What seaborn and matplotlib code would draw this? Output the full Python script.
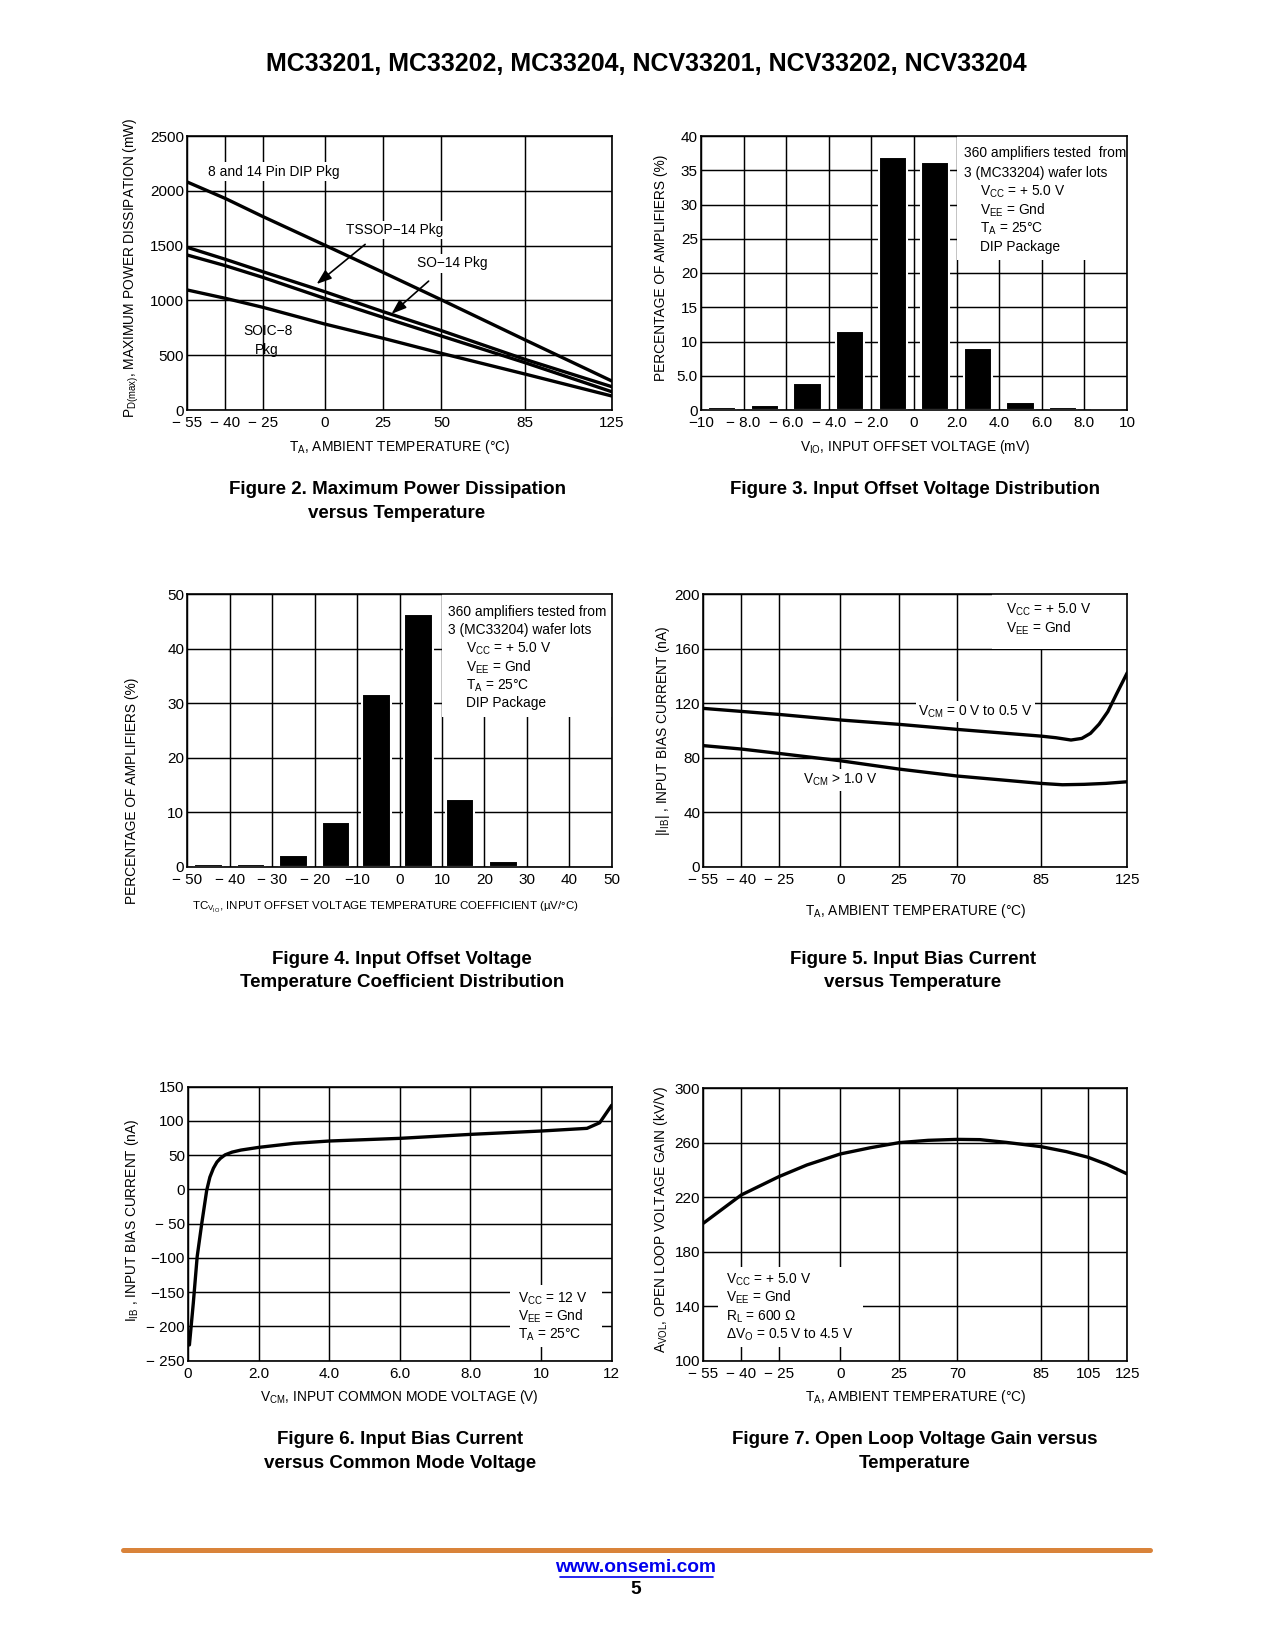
import numpy as np
import pandas as pd
import matplotlib
matplotlib.use("Agg")
import matplotlib.pyplot as plt
import seaborn as sns
from matplotlib import font_manager
from matplotlib.patches import Rectangle
from matplotlib.lines import Line2D

# ---------------- DATA ----------------
# Figure 2: max power dissipation vs temperature
fig2_temp = [-55, -40, -25, 0, 25, 50, 85, 125]
fig2_dip = [2080, 1930, 1765, 1505, 1255, 1005, 640, 265]
fig2_tssop = [1484, 1375, 1262, 1080, 897, 724, 462, 213]
fig2_so14 = [1414, 1317, 1210, 1019, 845, 675, 432, 167]
fig2_soic8 = [1095, 1019, 937, 785, 654, 517, 328, 128]
fig2_xticks = [-55, -40, -25, 0, 25, 50, 85, 125]
fig2_xlabels = ["\u2212 55", "\u2212 40", "\u2212 25", "0", "25", "50", "85", "125"]
fig2_yticks = [0, 500, 1000, 1500, 2000, 2500]

# Figure 3: input offset voltage distribution
fig3_vio = [-9, -7, -5, -3, -1, 1, 3, 5, 7, 9]
fig3_pct = [0.4, 0.8, 3.9, 11.6, 37.0, 36.2, 9.0, 1.1, 0.4, 0.25]
fig3_xticks = [-10, -8, -6, -4, -2, 0, 2, 4, 6, 8, 10]
fig3_xlabels = ["\u221210", "\u2212 8.0", "\u2212 6.0", "\u2212 4.0", "\u2212 2.0", "0",
                "2.0", "4.0", "6.0", "8.0", "10"]
fig3_yticks = [0, 5, 10, 15, 20, 25, 30, 35, 40]
fig3_ylabels = ["0", "5.0", "10", "15", "20", "25", "30", "35", "40"]

# Figure 4: TC of input offset voltage distribution
fig4_tc = [-45, -35, -25, -15, -5.4, 4.5, 14.3, 24.5]
fig4_pct = [0.5, 0.5, 2.1, 8.2, 31.7, 46.3, 12.5, 1.1]
fig4_xticks = [-50, -40, -30, -20, -10, 0, 10, 20, 30, 40, 50]
fig4_xlabels = ["\u2212 50", "\u2212 40", "\u2212 30", "\u2212 20", "\u221210", "0",
                "10", "20", "30", "40", "50"]
fig4_yticks = [0, 10, 20, 30, 40, 50]

# Figure 5: input bias current vs temperature
fig5_temp_low = [-55, -40, -25, 0, 25, 70, 85, 92, 99, 104, 108, 112, 116, 120, 125]
fig5_ib_low = [116.1, 113.9, 111.7, 107.6, 104.4, 100.7, 95.8, 94.6, 92.9, 94.1,
               97.8, 104.6, 113.7, 126.6, 142.3]
fig5_temp_high = [-55, -40, -25, 0, 25, 70, 85, 95, 105, 115, 125]
fig5_ib_high = [88.8, 86.3, 83.1, 77.7, 71.6, 66.5, 61.1, 60.1, 60.4, 61.1, 62.3]
fig5_xticks = [-55, -40, -25, 0, 25, 70, 85, 125]
fig5_xlabels = ["\u2212 55", "\u2212 40", "\u2212 25", "0", "25", "70", "85", "125"]
fig5_yticks = [0, 40, 80, 120, 160, 200]

# Figure 6: input bias current vs common mode voltage
fig6_vcm = [0.0, 0.04, 0.15, 0.26, 0.39, 0.53, 0.62, 0.72, 0.82, 0.92, 1.05, 1.25,
            1.5, 2.0, 3.0, 4.0, 6.0, 8.0, 10.0, 11.3, 11.66, 12.0]
fig6_ib = [-215, -227, -166, -98, -49.5, -1.2, 18, 31, 40, 45.5, 50.5, 54.5,
           57.5, 61.4, 67.3, 70.7, 74.6, 80.4, 85.3, 89.2, 97.4, 123]
fig6_xticks = [0, 2, 4, 6, 8, 10, 12]
fig6_xlabels = ["0", "2.0", "4.0", "6.0", "8.0", "10", "12"]
fig6_yticks = [-250, -200, -150, -100, -50, 0, 50, 100, 150]
fig6_ylabels = ["\u2212 250", "\u2212 200", "\u2212150", "\u2212100", "\u2212 50", "0",
                "50", "100", "150"]

# Figure 7: open loop voltage gain vs temperature
fig7_temp = [-55, -40, -25, -13.6, 0, 12.6, 25, 47.5, 70, 74.1, 78.8, 85, 95.8, 105,
             114.4, 125]
fig7_avol = [200.9, 221.7, 235.1, 243.7, 251.8, 256.3, 260.1, 261.8, 262.5, 262.3,
             260.3, 257.2, 253.5, 249.3, 244.2, 237.1]
fig7_xticks = [-55, -40, -25, 0, 25, 70, 85, 105, 125]
fig7_xlabels = ["\u2212 55", "\u2212 40", "\u2212 25", "0", "25", "70", "85", "105", "125"]
fig7_yticks = [100, 140, 180, 220, 260, 300]

# relative placement of the (non-uniform) temperature grid lines
temp_grid_pos = [0.0, 0.0896, 0.178, 0.3233, 0.4617, 0.5988, 0.7957, 1.0]
temp_grid_pos7 = [0.0, 0.0896, 0.178, 0.3233, 0.4617, 0.5988, 0.7957, 0.908, 1.0]

# ---------------- STYLE ----------------
sns.set_theme(style="white")
names = {f.name for f in font_manager.fontManager.ttflist}
main_font = "Liberation Sans" if "Liberation Sans" in names else "DejaVu Sans"
plt.rcParams["font.family"] = [main_font, "DejaVu Sans"]
plt.rcParams["mathtext.fontset"] = "custom"
plt.rcParams["mathtext.rm"] = main_font
plt.rcParams["mathtext.it"] = main_font
plt.rcParams["mathtext.bf"] = main_font + ":bold"
plt.rcParams["mathtext.default"] = "rm"
plt.rcParams["axes.unicode_minus"] = True

W, H = 1275, 1650
TICK_FS = 7.3
LAB_FS = 6.6
ANN_FS = 6.6
CAP_FS = 9.0
LW_CURVE = 1.6

fig = plt.figure(figsize=(W / 150, H / 150), dpi=150)
fig.patch.set_facecolor("white")


def add_axes(x0, y0, x1, y1):
    return fig.add_axes([x0 / W, 1 - y1 / H, (x1 - x0) / W, (y1 - y0) / H])


def style(ax):
    ax.set_facecolor("white")
    for s in ax.spines.values():
        s.set_visible(True)
        s.set_color("black")
        s.set_linewidth(0.8)
    ax.grid(True, color="black", linewidth=0.7)
    ax.set_axisbelow(True)
    ax.tick_params(length=0, labelsize=TICK_FS, colors="black")
    ax.tick_params(axis="x", pad=3)
    ax.tick_params(axis="y", pad=1.5)


def temp_scale(ax, ticks, pos):
    t = np.asarray(ticks, float)
    p = np.asarray(pos, float)
    s0 = (p[1] - p[0]) / (t[1] - t[0])
    s1 = (p[-1] - p[-2]) / (t[-1] - t[-2])
    te = np.concatenate([[t[0] - 1e4], t, [t[-1] + 1e4]])
    pe = np.concatenate([[p[0] - 1e4 * s0], p, [p[-1] + 1e4 * s1]])
    ax.set_xscale("function",
                  functions=(lambda x: np.interp(x, te, pe), lambda y: np.interp(y, pe, te)))


def labels(ax, xlabel, ylabel, xl, yl, xfs=LAB_FS):
    ax.set_xlabel(xlabel, fontsize=xfs, color="black")
    ax.set_ylabel(ylabel, fontsize=LAB_FS, color="black")
    ax.xaxis.set_label_coords(*xl)
    ax.yaxis.set_label_coords(*yl)
    ax.xaxis.label.set_va("center")
    ax.yaxis.label.set_va("center")


def atext(ax, x, y, s, ha="left", bbox=False, fs=ANN_FS):
    kw = dict(transform=ax.transAxes, ha=ha, va="center", fontsize=fs, color="black", zorder=5)
    if bbox:
        kw["bbox"] = dict(facecolor="white", edgecolor="none", pad=1.2)
    ax.text(x, y, s, **kw)


def white_box(ax, x0, y0, x1, y1):
    ax.add_patch(Rectangle((x0, y0), x1 - x0, y1 - y0, transform=ax.transAxes,
                           facecolor="white", edgecolor="none", zorder=1.5))


def caption(xc, ys, lines):
    for y, s in zip(ys, lines):
        fig.text(xc / W, 1 - y / H, s, ha="center", va="center", fontsize=CAP_FS,
                 fontweight="bold", color="black")


# ---------------- FIGURE 2 ----------------
ax2 = add_axes(187.3, 136, 611.7, 410)
style(ax2)
for ser in (fig2_dip, fig2_tssop, fig2_so14, fig2_soic8):
    sns.lineplot(x=fig2_temp, y=ser, color="black", linewidth=LW_CURVE, ax=ax2,
                 legend=False, zorder=3)
temp_scale(ax2, fig2_xticks, temp_grid_pos)
ax2.set_xlim(-55, 125)
ax2.set_ylim(0, 2500)
ax2.set_xticks(fig2_xticks)
ax2.set_xticklabels(fig2_xlabels)
ax2.set_yticks(fig2_yticks)
ax2.set_yticklabels([str(v) for v in fig2_yticks])
labels(ax2, "T$_A$, AMBIENT TEMPERATURE (\u00b0C)",
       "P$_{D(max)}$, MAXIMUM POWER DISSIPATION (mW)", (0.5, -0.135), (-0.131, 0.52))
atext(ax2, 0.049, 0.87, "8 and 14 Pin DIP Pkg", bbox=True)
atext(ax2, 0.4875, 0.657, "TSSOP\u221214 Pkg", ha="center", bbox=True)
atext(ax2, 0.625, 0.535, "SO\u221214 Pkg", ha="center", bbox=True)
atext(ax2, 0.19, 0.29, "SOIC\u22128", ha="center")
atext(ax2, 0.186, 0.219, "Pkg", ha="center")
arrow_kw = dict(arrowstyle="-|>,head_length=0.5,head_width=0.18", color="black", lw=0.8)
ax2.annotate("", xy=(0.297, 0.450), xytext=(0.4266, 0.614), xycoords="axes fraction",
             textcoords="axes fraction", arrowprops=arrow_kw, zorder=5)
ax2.annotate("", xy=(0.4737, 0.3406), xytext=(0.576, 0.4805), xycoords="axes fraction",
             textcoords="axes fraction", arrowprops=arrow_kw, zorder=5)

# ---------------- FIGURE 3 ----------------
ax3 = add_axes(701, 136, 1127, 410)
style(ax3)
sns.barplot(x=fig3_vio, y=fig3_pct, native_scale=True, orient="x", width=0.665,
            color="black", saturation=1, errorbar=None, ax=ax3, zorder=2)
ax3.set_xlim(-10, 10)
ax3.set_ylim(0, 40)
ax3.set_xticks(fig3_xticks)
ax3.set_xticklabels(fig3_xlabels)
ax3.set_yticks(fig3_yticks)
ax3.set_yticklabels(fig3_ylabels)
labels(ax3, "V$_{IO}$, INPUT OFFSET VOLTAGE (mV)", "PERCENTAGE OF AMPLIFIERS (%)",
       (0.502, -0.135), (-0.095, 0.52))
white_box(ax3, 0.60, 0.547, 1.0, 1.0)
for (x, y, s) in [(0.617, 0.937, "360 amplifiers tested  from"),
                  (0.617, 0.864, "3 (MC33204) wafer lots"),
                  (0.656, 0.797, "V$_{CC}$ = + 5.0 V"),
                  (0.656, 0.730, "V$_{EE}$ = Gnd"),
                  (0.656, 0.663, "T$_A$ = 25\u00b0C"),
                  (0.656, 0.596, "DIP Package")]:
    atext(ax3, x, y, s)

# ---------------- FIGURE 4 ----------------
ax4 = add_axes(187.3, 594, 611.7, 866.7)
style(ax4)
sns.barplot(x=fig4_tc, y=fig4_pct, native_scale=True, orient="x", width=0.696,
            color="black", saturation=1, errorbar=None, ax=ax4, zorder=2)
ax4.set_xlim(-50, 50)
ax4.set_ylim(0, 50)
ax4.set_xticks(fig4_xticks)
ax4.set_xticklabels(fig4_xlabels)
ax4.set_yticks(fig4_yticks)
ax4.set_yticklabels([str(v) for v in fig4_yticks])
labels(ax4, "TC$_{V_{IO}}$, INPUT OFFSET VOLTAGE TEMPERATURE COEFFICIENT (\u00b5V/\u00b0C)",
       "PERCENTAGE OF AMPLIFIERS (%)", (0.468, -0.148), (-0.131, 0.28), xfs=5.5)
white_box(ax4, 0.60, 0.55, 1.0, 1.0)
for (x, y, s) in [(0.615, 0.935, "360 amplifiers tested from"),
                  (0.615, 0.868, "3 (MC33204) wafer lots"),
                  (0.656, 0.798, "V$_{CC}$ = + 5.0 V"),
                  (0.656, 0.733, "V$_{EE}$ = Gnd"),
                  (0.656, 0.664, "T$_A$ = 25\u00b0C"),
                  (0.656, 0.599, "DIP Package")]:
    atext(ax4, x, y, s)

# ---------------- FIGURE 5 ----------------
ax5 = add_axes(703.3, 594, 1127.3, 866.7)
style(ax5)
sns.lineplot(x=fig5_temp_low, y=fig5_ib_low, color="black", linewidth=LW_CURVE, ax=ax5,
             legend=False, zorder=3)
sns.lineplot(x=fig5_temp_high, y=fig5_ib_high, color="black", linewidth=LW_CURVE, ax=ax5,
             legend=False, zorder=3)
temp_scale(ax5, fig5_xticks, temp_grid_pos)
ax5.set_xlim(-55, 125)
ax5.set_ylim(0, 200)
ax5.set_xticks(fig5_xticks)
ax5.set_xticklabels(fig5_xlabels)
ax5.set_yticks(fig5_yticks)
ax5.set_yticklabels([str(v) for v in fig5_yticks])
labels(ax5, "T$_A$, AMBIENT TEMPERATURE (\u00b0C)", "|I$_{IB}$| , INPUT BIAS CURRENT (nA)",
       (0.5, -0.163), (-0.096, 0.498))
white_box(ax5, 0.68, 0.8, 1.0, 1.0)
atext(ax5, 0.715, 0.941, "V$_{CC}$ = + 5.0 V")
atext(ax5, 0.715, 0.874, "V$_{EE}$ = Gnd")
atext(ax5, 0.507, 0.568, "V$_{CM}$ = 0 V to 0.5 V", bbox=True)
atext(ax5, 0.236, 0.318, "V$_{CM}$ > 1.0 V", bbox=True)

# ---------------- FIGURE 6 ----------------
ax6 = add_axes(188, 1086.7, 611.7, 1360.7)
style(ax6)
sns.lineplot(x=fig6_vcm, y=fig6_ib, color="black", linewidth=LW_CURVE, ax=ax6,
             legend=False, zorder=3, sort=False)
ax6.set_xlim(0, 12)
ax6.set_ylim(-250, 150)
ax6.set_xticks(fig6_xticks)
ax6.set_xticklabels(fig6_xlabels)
ax6.set_yticks(fig6_yticks)
ax6.set_yticklabels(fig6_ylabels)
labels(ax6, "V$_{CM}$, INPUT COMMON MODE VOLTAGE (V)", "I$_{IB}$ , INPUT BIAS CURRENT (nA)",
       (0.5, -0.1325), (-0.133, 0.513))
white_box(ax6, 0.76, 0.051, 0.977, 0.276)
atext(ax6, 0.78, 0.2275, "V$_{CC}$ = 12 V")
atext(ax6, 0.78, 0.163, "V$_{EE}$ = Gnd")
atext(ax6, 0.78, 0.094, "T$_A$ = 25\u00b0C")

# ---------------- FIGURE 7 ----------------
ax7 = add_axes(703.3, 1088.3, 1127.3, 1360.7)
style(ax7)
sns.lineplot(x=fig7_temp, y=fig7_avol, color="black", linewidth=LW_CURVE, ax=ax7,
             legend=False, zorder=3)
temp_scale(ax7, fig7_xticks, temp_grid_pos7)
ax7.set_xlim(-55, 125)
ax7.set_ylim(100, 300)
ax7.set_xticks(fig7_xticks)
ax7.set_xticklabels(fig7_xlabels)
ax7.set_yticks(fig7_yticks)
ax7.set_yticklabels([str(v) for v in fig7_yticks])
labels(ax7, "T$_A$, AMBIENT TEMPERATURE (\u00b0C)",
       "A$_{VOL}$, OPEN LOOP VOLTAGE GAIN (kV/V)", (0.5, -0.1335), (-0.1, 0.518))
white_box(ax7, 0.035, 0.051, 0.377, 0.345)
atext(ax7, 0.0535, 0.296, "V$_{CC}$ = + 5.0 V")
atext(ax7, 0.0535, 0.231, "V$_{EE}$ = Gnd")
atext(ax7, 0.0535, 0.162, "R$_L$ = 600 \u03a9")
atext(ax7, 0.0535, 0.094, "\u0394V$_O$ = 0.5 V to 4.5 V")

# ---------------- PAGE TEXT ----------------
fig.text(646 / W, 1 - 64 / H, "MC33201, MC33202, MC33204, NCV33201, NCV33202, NCV33204",
         ha="center", va="center", fontsize=12.0, fontweight="bold", color="black")
caption(397, [490, 513], ["Figure 2. Maximum Power Dissipation", "versus Temperature"])
caption(915, [490], ["Figure 3. Input Offset Voltage Distribution"])
caption(402, [960, 983], ["Figure 4. Input Offset Voltage",
                          "Temperature Coefficient Distribution"])
caption(913, [960, 983], ["Figure 5. Input Bias Current", "versus Temperature"])
caption(400, [1440, 1463], ["Figure 6. Input Bias Current", "versus Common Mode Voltage"])
caption(915, [1440, 1463], ["Figure 7. Open Loop Voltage Gain versus", "Temperature"])

fig.add_artist(Line2D([123 / W, 1150 / W], [1 - 1550 / H, 1 - 1550 / H], color="#D9833A",
                      linewidth=2.4, solid_capstyle="round", transform=fig.transFigure))
fig.text(636 / W, 1 - 1568 / H, "www.onsemi.com", ha="center", va="center", fontsize=9.2,
         fontweight="bold", color="#0000EE")
fig.add_artist(Line2D([560 / W, 713 / W], [1 - 1577 / H, 1 - 1577 / H], color="#0000EE",
                      linewidth=0.8, transform=fig.transFigure))
fig.text(636 / W, 1 - 1590 / H, "5", ha="center", va="center", fontsize=9.2,
         fontweight="bold", color="black")

fig.savefig("out.png", dpi=150, facecolor="white")
